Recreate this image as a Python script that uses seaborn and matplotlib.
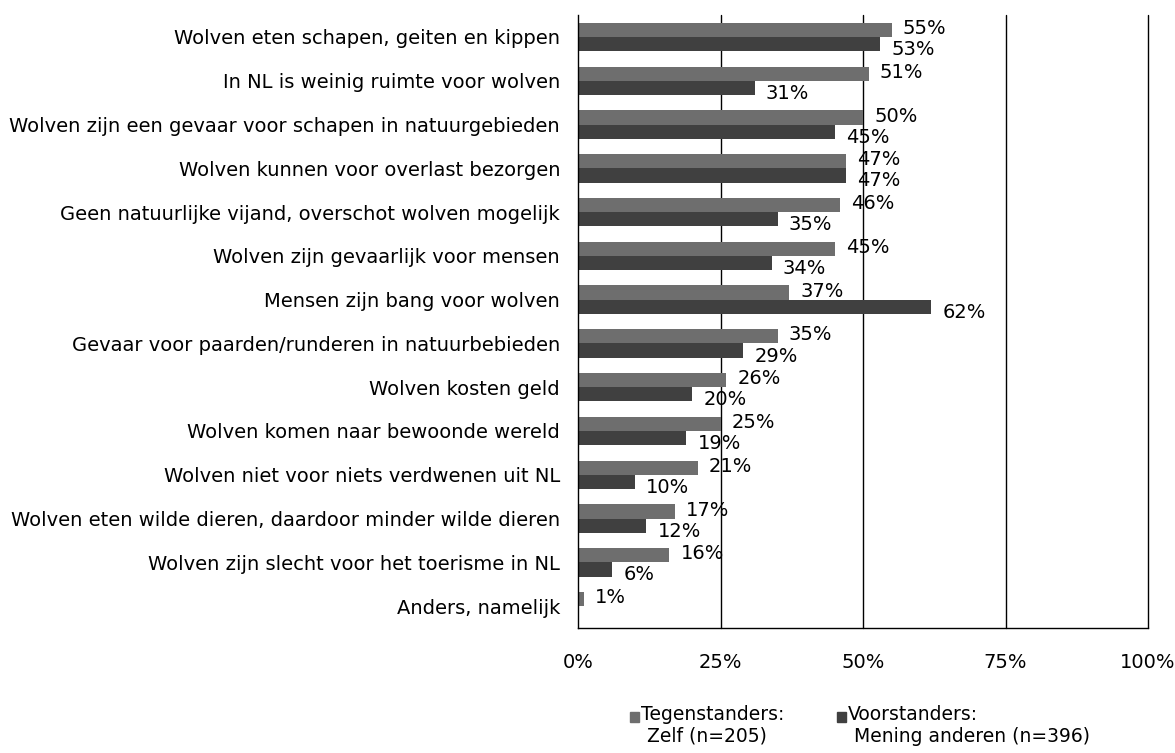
import pandas as pd
import numpy as np
import matplotlib.pyplot as plt
import seaborn as sns
from matplotlib.patches import Rectangle

categories = ['Wolven eten schapen, geiten en kippen',
              'In NL is weinig ruimte voor wolven',
              'Wolven zijn een gevaar voor schapen in natuurgebieden',
              'Wolven kunnen voor overlast bezorgen',
              'Geen natuurlijke vijand, overschot wolven mogelijk',
              'Wolven zijn gevaarlijk voor mensen',
              'Mensen zijn bang voor wolven',
              'Gevaar voor paarden/runderen in natuurbebieden',
              'Wolven kosten geld',
              'Wolven komen naar bewoonde wereld',
              'Wolven niet voor niets verdwenen uit NL',
              'Wolven eten wilde dieren, daardoor minder wilde dieren',
              'Wolven zijn slecht voor het toerisme in NL',
              'Anders, namelijk']

tegen = [55, 51, 50, 47, 46, 45, 37, 35, 26, 25, 21, 17, 16, 1]
voor = [53, 31, 45, 47, 35, 34, 62, 29, 20, 19, 10, 12, 6, 0]

series = ['Tegenstanders: Zelf (n=205)', 'Voorstanders: Mening anderen (n=396)']
legend_lines = [('Tegenstanders:', ' Zelf (n=205)'),
                ('Voorstanders:', ' Mening anderen (n=396)')]
colors = ['#6e6e6e', '#404040']

df = pd.DataFrame({
    'cat': categories * 2,
    'value': tegen + voor,
    'serie': [series[0]] * len(categories) + [series[1]] * len(categories)
})

sns.set_style('white')
plt.rcParams['font.family'] = ['DejaVu Sans']
plt.rcParams['text.color'] = 'black'
plt.rcParams['xtick.color'] = 'black'
plt.rcParams['ytick.color'] = 'black'

fig = plt.figure(figsize=(11.75, 7.53), dpi=100)
ax = fig.add_axes([0.492, 0.166, 0.485, 0.814])

sns.barplot(
    data=df,
    x='value',
    y='cat',
    hue='serie',
    hue_order=series,
    palette=colors,
    orient='h',
    width=0.65,
    gap=0,
    linewidth=0,
    saturation=1,
    ax=ax,
    legend=False
)

# value labels at end of bars (skip zeros)
for i, (cont, vals) in enumerate(zip(ax.containers, [tegen, voor])):
    labels = [f'{v}%' if v > 0 else '' for v in vals]
    txts = ax.bar_label(cont, labels=labels, padding=8, fontsize=14, color='black')
    for t in txts:
        t.xyann = (8, 1 if i == 0 else -4)

ax.set_xlim(0, 100)
ax.set_ylim(len(categories) - 0.5, -0.5)
ax.set_xticks([0, 25, 50, 75, 100])
ax.set_xticklabels(['0%', '25%', '50%', '75%', '100%'], fontsize=14)
ax.tick_params(axis='x', length=4, pad=14, direction='out', color='black')
ax.tick_params(axis='y', length=0, pad=13, labelsize=14)
ax.set_yticks(np.arange(-0.5, len(categories), 1), minor=True)
ax.tick_params(axis='y', which='minor', length=5, color='black', direction='out')
for x in [25, 50, 75, 100]:
    ax.axvline(x, color='black', lw=1, zorder=0, clip_on=False)

ax.set_xlabel(None)
ax.set_ylabel(None)
for s in ['top', 'right']:
    ax.spines[s].set_visible(False)
for s in ['left', 'bottom']:
    ax.spines[s].set_color('black')
    ax.spines[s].set_linewidth(1)

# legend below the chart, square next to the first line of each entry
W, H = 1175, 753
for (l1, l2), c, xs in zip(legend_lines, colors, [630, 837]):
    fig.patches.append(Rectangle((xs / W, 1 - 722 / H), 9 / W, 10 / H,
                                 color=c, transform=fig.transFigure))
    fig.text((xs + 11) / W, 1 - 705 / H, l1 + '\n' + l2, fontsize=13.5,
             va='top', ha='left', linespacing=1.2,
             transform=fig.transFigure)

plt.savefig('out.png', dpi=100)
